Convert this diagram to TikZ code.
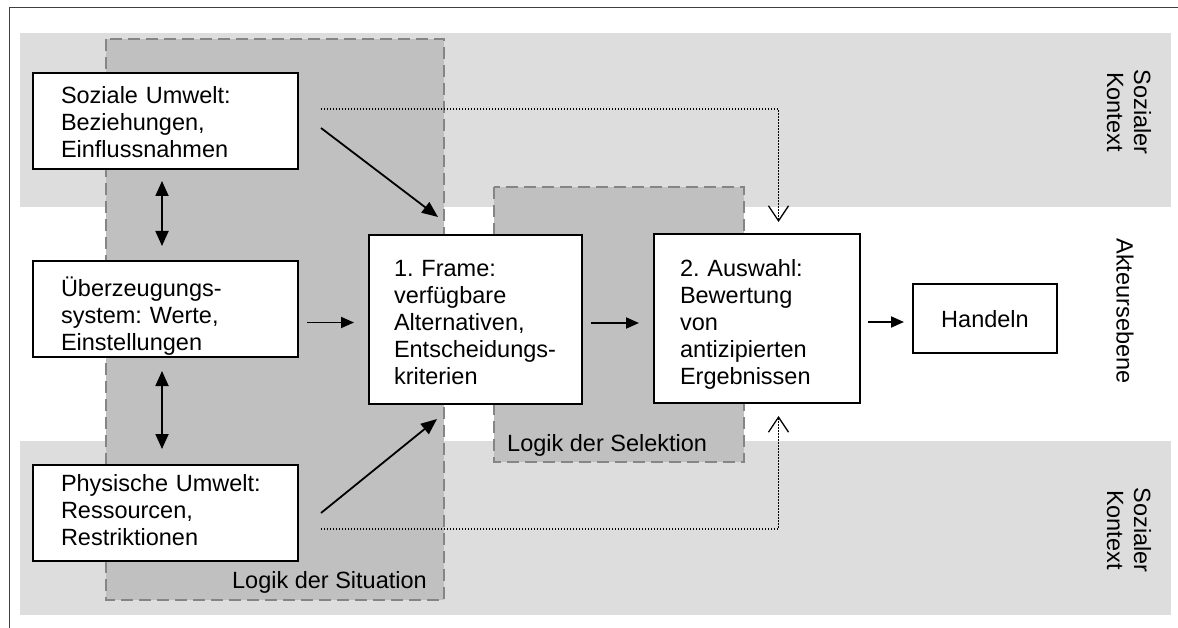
\documentclass[tikz,border=0pt]{standalone}
\usepackage{fontspec}
\setmainfont{Liberation Sans}
\usetikzlibrary{arrows.meta,calc}
\hyphenpenalty=10000
\exhyphenpenalty=10000
\frenchspacing
\definecolor{bandgray}{HTML}{DDDDDD}
\definecolor{logikgray}{HTML}{C0C0C0}
\definecolor{dashgray}{HTML}{858585}
\begin{document}
\begin{tikzpicture}[x=1pt,y=-1pt,
  lbl/.style={font=\fontsize{23.5}{27}\selectfont, inner sep=0pt},
  box/.style={draw=black, line width=2pt, fill=white, inner ysep=0pt, outer sep=0pt,
    align=left, anchor=north west, font=\fontsize{23.5}{27}\selectfont},
  band/.style={fill=bandgray},
  logik/.style={fill=logikgray, draw=dashgray, line width=1.6pt, dash pattern=on 12pt off 6pt},
  arr/.style={line width=1.8pt, -{Triangle[length=13pt,width=11pt]}},
  darr/.style={line width=1.8pt, -{Triangle[length=16pt,width=13pt]}},
  dblarr/.style={line width=1.8pt, {Triangle[length=15pt,width=13pt]}-{Triangle[length=15pt,width=13pt]}},
  dots/.style={line width=1.3pt, dash pattern=on 1.3pt off 1.7pt,
    -{Straight Barb[length=15pt,width=20pt,line width=1.3pt]}},
]
\useasboundingbox (0,0) rectangle (1178,628);
% outer frame (top and left visible)
\draw[line width=1pt, black!75] (9,628) -- (9,8) -- (1178,8);
% context bands
\fill[band] (20,33) rectangle (1171,207);
\fill[band] (20,441) rectangle (1171,615);
% logic areas
\draw[logik] (106,39) rectangle (444,600);
\draw[logik] (494,187) rectangle (744,462);
% labels
\node[lbl, anchor=base east] (sit) at (427,588) {Logik der Situation};
\node[lbl, anchor=base west] (sel) at (507,451) {Logik der Selektion};
\node[lbl, rotate=-90, align=center] (kt) at (1129,112) {Sozialer\\Kontext};
\node[lbl, rotate=-90] (ae) at (1125,311) {Akteursebene};
\node[lbl, rotate=-90, align=center] (kb) at (1129,530) {Sozialer\\Kontext};
% boxes
\node[box, text width=209pt, inner xsep=28pt, text height=31pt, text depth=65pt] (soz) at (33,73)
  {Soziale Umwelt:\\Beziehungen,\\Einflussnahmen};
\node[box, text width=209pt, inner xsep=28pt, text height=36pt, text depth=60pt] (ueb) at (33,261)
  {Überzeugungs-\\system: Werte,\\Einstellungen};
\node[box, text width=209pt, inner xsep=28pt, text height=26pt, text depth=70pt] (phy) at (33,465)
  {Physische Umwelt:\\Ressourcen,\\Restriktionen};
\node[box, text width=163pt, inner xsep=25pt, text height=42pt, text depth=127pt] (frame) at (369,235)
  {1. Frame:\\verfügbare\\Alternativen,\\Entscheidungs-\\kriterien};
\node[box, text width=154pt, inner xsep=26pt, text height=43pt, text depth=126pt] (ausw) at (654,234)
  {2. Auswahl:\\Bewertung\\von\\antizipierten\\Ergebnissen};
\node[box, align=center, text width=124pt, inner xsep=10pt, text height=43pt, text depth=26pt] (hand) at (913,284)
  {Handeln};
% dotted influences
\draw[dots] ($(soz.east)+(23,-12)$) -| ($(ausw.north)+(21.5,-12)$);
\draw[dots] ($(phy.east)+(23,16)$) -| ($(ausw.south)+(21.5,13)$);
% arrows
\draw[darr] ($(soz.east)+(23,7)$) -- ($(frame.north west)+(69,-18)$);
\draw[darr] ($(phy.east)+(23,0)$) -- ($(frame.south west)+(68,15)$);
\draw[dblarr] ($(soz.south)+(-3.5,12)$) -- ($(ueb.north)+(-3.5,-15)$);
\draw[dblarr] ($(ueb.south)+(-3.5,14)$) -- ($(phy.north)+(-3.5,-16)$);
\draw[arr] ($(ueb.east)+(9,13.5)$) -- ($(frame.west)+(-15,3)$);
\draw[arr] ($(frame.east)+(9,3.5)$) -- ($(ausw.west)+(-15,4.5)$);
\draw[arr] ($(ausw.east)+(8,3.5)$) -- ($(hand.west)+(-9,3.5)$);
\end{tikzpicture}
\end{document}
